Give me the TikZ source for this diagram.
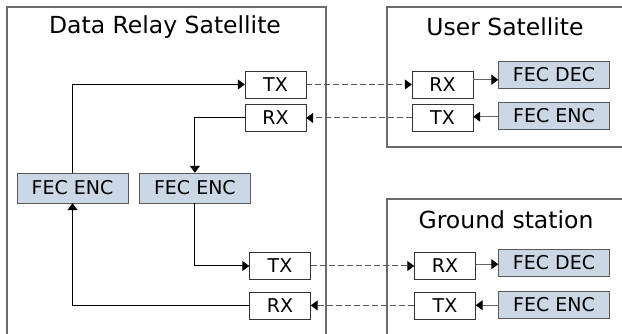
\documentclass[tikz,border=0pt]{standalone}
\usepackage{fontspec}
\setmainfont{DejaVu Sans}
\usetikzlibrary{arrows.meta,positioning,calc}
\definecolor{fecfill}{HTML}{CCD7E5}
\definecolor{edgegray}{HTML}{6B6B6B}
\definecolor{dashgray}{HTML}{555555}

\begin{document}
\begin{tikzpicture}[x=1pt, y=1pt, >={Triangle[length=7pt,width=10pt,color=black]}, node distance=6pt and 11pt,
  io/.style={draw=black!80, fill=white, minimum width=61pt, minimum height=27pt, inner sep=0pt, font=\fontsize{19}{22}\selectfont},
  fec/.style={io, draw=black!65, fill=fecfill, minimum width=111pt},
  ttl/.style={font=\fontsize{23.5}{28}\selectfont},
  encl/.style={draw=edgegray, line width=1.2pt},
  lnk/.style={->, draw=black, line width=1pt},
  rf/.style={->, draw=dashgray, dash pattern=on 6pt off 3pt, line width=1pt}]
  \useasboundingbox (0,0) rectangle (622,334);
  \clip (0,0) rectangle (622,334);
  % enclosures
  \draw[encl] (7,327) rectangle (326,-10);
  \draw[encl] (387,327) rectangle (630,187);
  \draw[encl] (387,135) rectangle (630,-10);
  \node[ttl] (drsT) at (165,307) {Data Relay Satellite};
  \node[ttl] (usrT) at (505,307) {User Satellite};
  \node[ttl] (gndT) at (506,114) {Ground station};
  % data relay satellite
  \node[io] (drsTx1) at (275.5,249.5) {TX};
  \node[io, below=of drsTx1] (drsRx1) {RX};
  \node[fec, minimum height=30pt] (drsEnc1) at (72.5,146) {FEC ENC};
  \node[fec, minimum height=30pt, right=of drsEnc1] (drsEnc2) {FEC ENC};
  \node[io] (drsTx2) at (280,68) {TX};
  \node[io, below=12pt of drsTx2] (drsRx2) {RX};
  % user satellite
  \node[io] (usrRx) at (442.5,249.5) {RX};
  \node[io, below=of usrRx] (usrTx) {TX};
  \node[fec] (usrDec) at (554,259) {FEC DEC};
  \node[fec] (usrEnc) at (554,218.5) {FEC ENC};
  % ground station
  \node[io] (gndRx) at (445,68) {RX};
  \node[io, below=12pt of gndRx] (gndTx) {TX};
  \node[fec] (gndDec) at (554,71.5) {FEC DEC};
  \node[fec] (gndEnc) at (554,29) {FEC ENC};
  % relay paths
  \draw[lnk] (drsEnc1.north) |- (drsTx1.west);
  \draw[lnk] (drsRx1.west) -| (drsEnc2.north);
  \draw[lnk] (drsEnc2.south) |- (drsTx2.west);
  \draw[lnk] (drsRx2.west) -| (drsEnc1.south);
  % links
  \draw[rf] (drsTx1) -- (usrRx);
  \draw[rf] (usrTx) -- (drsRx1);
  \draw[rf] (drsTx2) -- (gndRx);
  \draw[rf] (gndTx) -- (drsRx2);
  % local paths
  \coordinate (m1) at ($(usrRx)!.5!(usrDec)$);
  \coordinate (m2) at ($(usrTx)!.5!(usrEnc)$);
  \coordinate (m3) at ($(gndRx)!.5!(gndDec)$);
  \coordinate (m4) at ($(gndTx)!.5!(gndEnc)$);
  \draw[lnk, draw=black!60] (m1 -| usrRx.east) -- (m1 -| usrDec.west);
  \draw[lnk, draw=black!60] (m2 -| usrEnc.west) -- (m2 -| usrTx.east);
  \draw[lnk, draw=black!60] (m3 -| gndRx.east) -- (m3 -| gndDec.west);
  \draw[lnk, draw=black!60] (m4 -| gndEnc.west) -- (m4 -| gndTx.east);
\end{tikzpicture}
\end{document}
